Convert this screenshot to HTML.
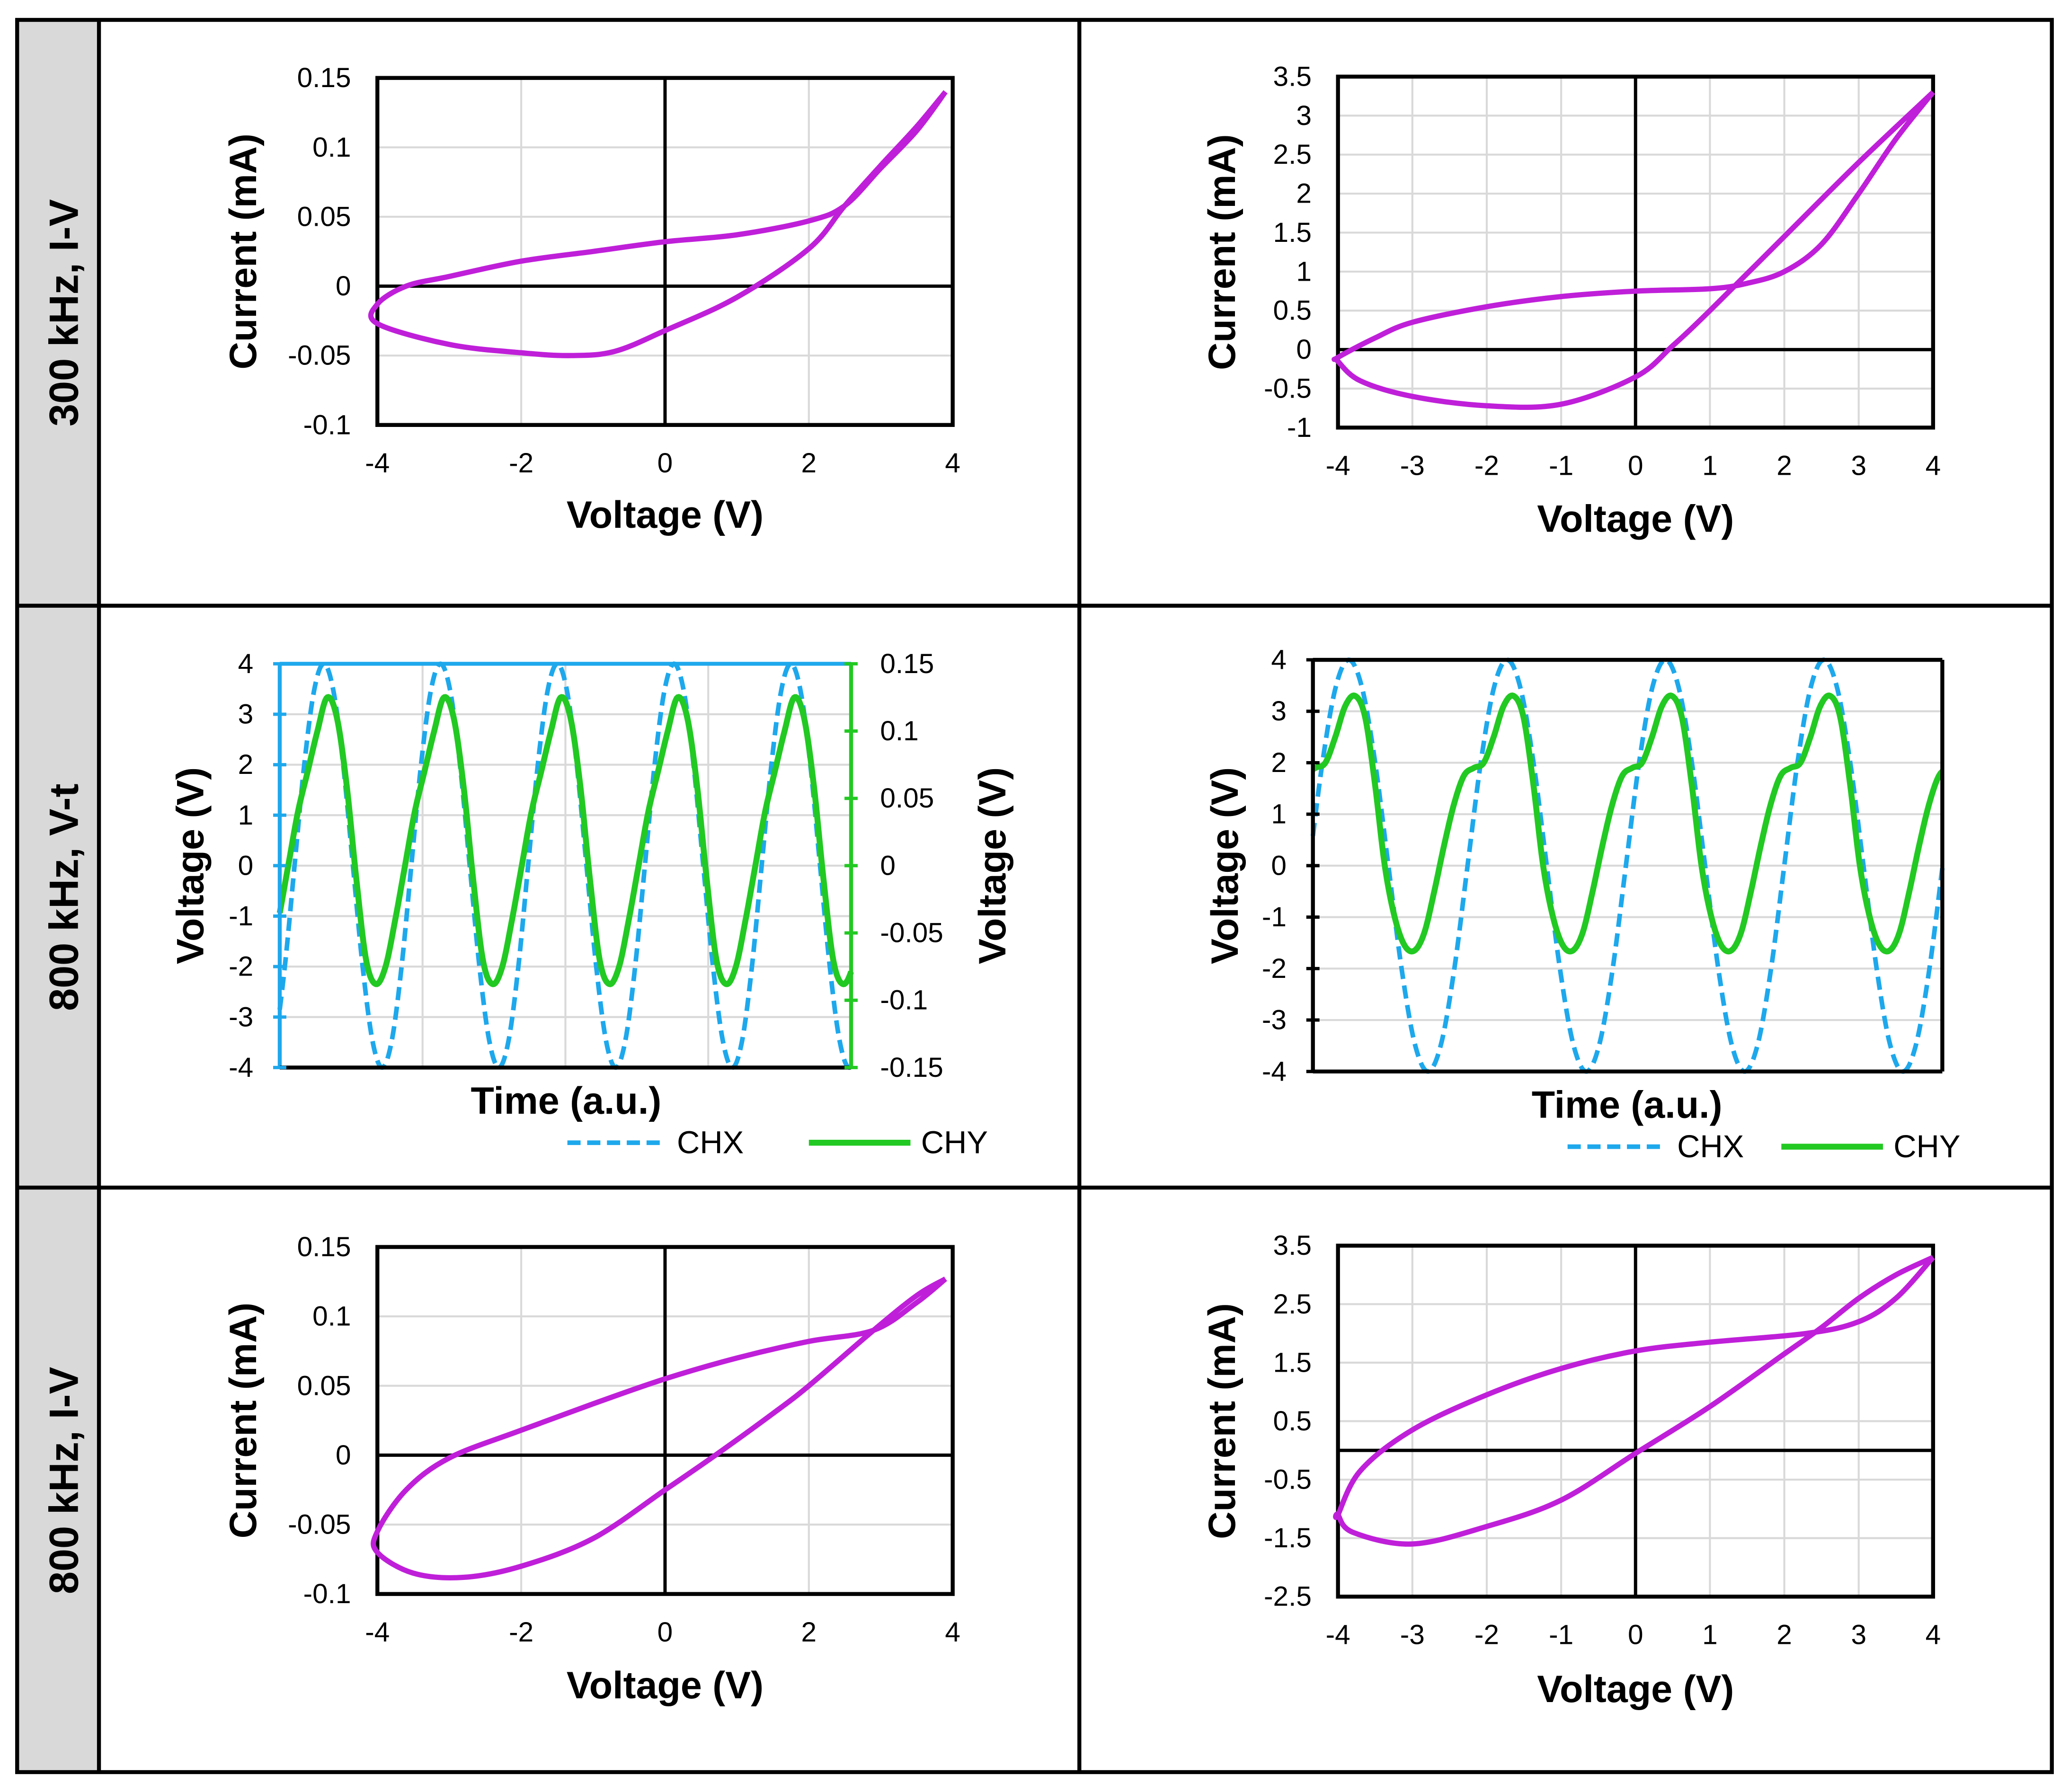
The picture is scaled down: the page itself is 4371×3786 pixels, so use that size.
<!DOCTYPE html>
<html><head><meta charset="utf-8">
<style>
html,body{margin:0;padding:0;background:#fff;}
svg{display:block;}
text{font-family:"Liberation Sans",Arial,sans-serif;}
</style></head>
<body>
<svg id="fig" xmlns="http://www.w3.org/2000/svg" width="4371" height="3786" viewBox="0 0 1568 1358">
<rect x="0" y="0" width="1568" height="1358" fill="#fff"/>
<g>
<rect x="13" y="15" width="62" height="1328" fill="#d9d9d9"/>
<rect x="13" y="15" width="1542" height="1328" fill="none" stroke="#000" stroke-width="3"/>
<line x1="75" y1="15" x2="75" y2="1343" stroke="#000" stroke-width="3"/>
<line x1="818" y1="15" x2="818" y2="1343" stroke="#000" stroke-width="3"/>
<line x1="13" y1="459" x2="1555" y2="459" stroke="#000" stroke-width="3"/>
<line x1="13" y1="900" x2="1555" y2="900" stroke="#000" stroke-width="3"/>
</g>
<text transform="translate(59,237) rotate(-90)" text-anchor="middle" font-size="31" font-weight="bold">300 kHz, I-V</text>
<text transform="translate(59,680) rotate(-90)" text-anchor="middle" font-size="31" font-weight="bold">800 kHz, V-t</text>
<text transform="translate(59,1122) rotate(-90)" text-anchor="middle" font-size="31" font-weight="bold">800 kHz, I-V</text>
</svg>
<script>
// ---------- data ----------
const p1UpperV = [3.9,3.5,3,2.5,2,1,0,-1,-2,-3,-3.6,-4];
const p1UpperI = [0.14,0.112,0.085,0.058,0.047,0.037,0.032,0.025,0.018,0.007,0.0,-0.013];
const p1LowerV = [-4,-3,-2,-1.3,-0.7,0,1,2,2.5,3,3.5,3.9];
const p1LowerI = [-0.027,-0.042,-0.048,-0.05,-0.047,-0.032,-0.008,0.027,0.058,0.087,0.115,0.14];
const p2UpperV = [4,3,2,1,0.5,0,-1,-2,-3,-3.7,-4];
const p2UpperI = [3.3,2.4,1.45,0.5,0.05,-0.35,-0.7,-0.72,-0.6,-0.4,-0.15];
const p2LowerV = [-4,-3.5,-3,-2,-1,0,1,1.5,2,2.5,3,3.5,4];
const p2LowerI = [-0.1,0.15,0.35,0.55,0.68,0.75,0.78,0.85,1.0,1.35,2.0,2.7,3.3];
const p5UpperV = [3.9,3.5,2.9,2,1,0,-1,-2,-3,-3.6,-4];
const p5UpperI = [0.127,0.11,0.09,0.082,0.07,0.055,0.037,0.018,-0.002,-0.025,-0.055];
const p5LowerV = [-4,-3.5,-2.8,-2,-1,0,0.7,1.5,2,2.9,3.5,3.9];
const p5LowerI = [-0.07,-0.085,-0.088,-0.08,-0.06,-0.025,0,0.03,0.05,0.09,0.115,0.127];
const p6UpperV = [4,3.5,3,2.3,1,0,-1,-2,-3,-3.7,-4];
const p6UpperI = [3.3,2.6,2.2,2.0,1.85,1.7,1.4,0.95,0.35,-0.35,-1.1];
const p6LowerV = [-4,-3.8,-3,-2,-1,0,1,2,2.5,3,3.5,4];
const p6LowerI = [-1.1,-1.4,-1.6,-1.3,-0.85,-0.05,0.75,1.65,2.1,2.6,3.0,3.3];
const p3ChxCycle = [4,3.46,2,0,-2,-3.46,-4,-3.46,-2,0,2,3.46];
const p3ChyCycle = [0.125,0.11,0.06,-0.01,-0.07,-0.088,-0.075,-0.04,0.0,0.04,0.07,0.1];
const p3Period = [0.2044];
const p3ChxPeak = [0.077];
const p3ChyPeak = [0.083];
const p4ChxCycle = [4,3.46,2,0,-2,-3.46,-4,-3.46,-2,0,2,3.46];
const p4ChyCycle = [3.3,2.9,1.6,0,-1.0,-1.55,-1.65,-1.3,-0.5,0.4,1.2,1.75,1.9,2.0,2.5,3.1];
const p4Period = [0.2516];
const p4ChxPeak = [0.057];
const p4ChyPeak = [0.067];
const ivLeftXTicks = [-4,-2,0,2,4];
const ivLeftYTicks = [-0.1,-0.05,0,0.05,0.1,0.15];
const ivLeftYLabels = ["-0.1","-0.05","0","0.05","0.1","0.15"];
const ivRightXTicks = [-4,-3,-2,-1,0,1,2,3,4];
const p2YTicks = [-1,-0.5,0,0.5,1,1.5,2,2.5,3,3.5];
const p6YTicks = [-2.5,-1.5,-0.5,0.5,1.5,2.5,3.5];
const vtYTicks = [-4,-3,-2,-1,0,1,2,3,4];
const p3RightTicks = [-0.15,-0.1,-0.05,0,0.05,0.1,0.15];
const p3RightLabels = ["-0.15","-0.1","-0.05","0","0.05","0.1","0.15"];

// ---------- helpers ----------
const NS="http://www.w3.org/2000/svg";
const svg=document.getElementById('fig');
const TICK=21, TITLE=29;
function mk(tag,attrs,parent,txt){const e=document.createElementNS(NS,tag);for(const k in attrs)e.setAttribute(k,attrs[k]);if(txt!==undefined)e.textContent=txt;(parent||svg).appendChild(e);return e;}
function scale(d0,d1,r0,r1){return v=>r0+(v-d0)/(d1-d0)*(r1-r0);}
function smooth(pts,closed){
  if(pts.length<2)return '';
  let d='M'+pts[0][0].toFixed(2)+','+pts[0][1].toFixed(2);
  const n=pts.length;
  for(let i=0;i<n-1;i++){
    const p0=pts[i>0?i-1:(closed?n-1:0)],p1=pts[i],p2=pts[i+1],p3=pts[i+2<n?i+2:(closed?(i+2)%n:n-1)];
    const c1=[p1[0]+(p2[0]-p0[0])/6,p1[1]+(p2[1]-p0[1])/6];
    const c2=[p2[0]-(p3[0]-p1[0])/6,p2[1]-(p3[1]-p1[1])/6];
    d+=' C'+c1[0].toFixed(2)+','+c1[1].toFixed(2)+' '+c2[0].toFixed(2)+','+c2[1].toFixed(2)+' '+p2[0].toFixed(2)+','+p2[1].toFixed(2);
  }
  return d;
}
function cycleVal(cyc,ph){
  const n=cyc.length;let f=((ph%1)+1)%1*n;const i=Math.floor(f),t=f-i;
  const p0=cyc[(i-1+n)%n],p1=cyc[i%n],p2=cyc[(i+1)%n],p3=cyc[(i+2)%n];
  return 0.5*((2*p1)+(-p0+p2)*t+(2*p0-5*p1+4*p2-p3)*t*t+(-p0+3*p1-3*p2+p3)*t*t*t);
}

function ivPanel(name,box,xr,yr,xt,xl,yt,yl,upV,upI,loV,loI,titleX,titleY){
  const g=mk('g',{});
  
  
  const sx=scale(xr[0],xr[1],box.x0,box.x1),sy=scale(yr[0],yr[1],box.y1,box.y0);
  xt.forEach(v=>{const l=mk('line',{x1:sx(v),x2:sx(v),y1:box.y0,y2:box.y1,stroke:'#d9d9d9','stroke-width':1.5},g);
    
    });
  yt.forEach(v=>{const l=mk('line',{x1:box.x0,x2:box.x1,y1:sy(v),y2:sy(v),stroke:'#d9d9d9','stroke-width':1.5},g);
    
    });
  const ax=mk('line',{x1:sx(0),x2:sx(0),y1:box.y0,y2:box.y1,stroke:'#000','stroke-width':2.5},g);
  
  
  const ay=mk('line',{x1:box.x0,x2:box.x1,y1:sy(0),y2:sy(0),stroke:'#000','stroke-width':2.5},g);
  
  
  const fr=mk('rect',{x:box.x0,y:box.y0,width:box.x1-box.x0,height:box.y1-box.y0,fill:'none',stroke:'#000','stroke-width':3},g);
  
  
  xt.forEach((v,i)=>{const t=mk('text',{x:sx(v),y:box.y1+36,'text-anchor':'middle','font-size':TICK},g,xl[i]);
    
    });
  yt.forEach((v,i)=>{const t=mk('text',{x:box.x0-20,y:sy(v)+7,'text-anchor':'end','font-size':TICK},g,yl[i]);
    
    });
  const pts=[];
  upV.forEach((v,i)=>pts.push([sx(v),sy(upI[i])]));
  loV.forEach((v,i)=>pts.push([sx(v),sy(loI[i])]));
  const c=mk('path',{d:smooth(pts,true),fill:'none',stroke:'#bf1fd9','stroke-width':4,'stroke-linejoin':'round'},g);
  
  
  const tx=mk('text',{x:(box.x0+box.x1)/2,y:titleY,'text-anchor':'middle','font-size':TITLE,'font-weight':'bold'},g,'Voltage (V)');
  
  
  const ty=mk('text',{transform:'translate('+titleX+','+((box.y0+box.y1)/2)+') rotate(-90)','text-anchor':'middle','font-size':TITLE,'font-weight':'bold'},g,'Current (mA)');
  
  
}

ivPanel('iv-300khz-left',{x0:286,x1:722,y0:59,y1:322},[-4,4],[-0.1,0.15],ivLeftXTicks,ivLeftXTicks.map(String),ivLeftYTicks,ivLeftYLabels,p1UpperV,p1UpperI,p1LowerV,p1LowerI,194,400);
ivPanel('iv-300khz-right',{x0:1014,x1:1465,y0:58,y1:324},[-4,4],[-1,3.5],ivRightXTicks,ivRightXTicks.map(String),p2YTicks,p2YTicks.map(String),p2LowerV.slice(0,0),[],[],[],936,403);
ivPanel('iv-800khz-left',{x0:286,x1:722,y0:945,y1:1208},[-4,4],[-0.1,0.15],ivLeftXTicks,ivLeftXTicks.map(String),ivLeftYTicks,ivLeftYLabels,p5UpperV,p5UpperI,p5LowerV,p5LowerI,194,1287);
ivPanel('iv-800khz-right',{x0:1014,x1:1465,y0:944,y1:1210},[-4,4],[-2.5,3.5],ivRightXTicks,ivRightXTicks.map(String),p6YTicks,p6YTicks.map(String),p6UpperV,p6UpperI,p6LowerV,p6LowerI,936,1290);
// panel 2 loop drawn explicitly from its arrays
(function(){
  const g=svg.lastChild.previousSibling.previousSibling;
  const sx=scale(-4,4,1014,1465),sy=scale(-1,3.5,324,58);
  const pts=[];
  p2UpperV.forEach((v,i)=>pts.push([sx(v),sy(p2UpperI[i])]));
  p2LowerV.forEach((v,i)=>pts.push([sx(v),sy(p2LowerI[i])]));
  const c=mk('path',{d:smooth(pts,true),fill:'none',stroke:'#bf1fd9','stroke-width':4,'stroke-linejoin':'round'});
  
  
})();

function vtPanel(name,box,chxC,chyC,period,chxPk,chyPk,chyRange,opts){
  const g=mk('g',{});
  
  
  const sx=scale(0,1,box.x0,box.x1),sy=scale(-4,4,box.y1,box.y0);
  const sy2=scale(chyRange[0],chyRange[1],box.y1,box.y0);
  vtYTicks.forEach(v=>{const l=mk('line',{x1:box.x0,x2:box.x1,y1:sy(v),y2:sy(v),stroke:'#d9d9d9','stroke-width':1.5},g);
    
    });
  if(opts.vgrid){for(let k=1;k<4;k++){const l=mk('line',{x1:sx(k/4),x2:sx(k/4),y1:box.y0,y2:box.y1,stroke:'#d9d9d9','stroke-width':1.5},g);
    
    }}
  const N=600;const a=[],b=[];
  for(let i=0;i<=N;i++){const t=i/N;
    a.push([sx(t),sy(cycleVal(chxC,(t-chxPk[0])/period[0]))]);
    b.push([sx(t),sy2(cycleVal(chyC,(t-chyPk[0])/period[0]))]);}
  const pa=mk('path',{d:'M'+a.map(p=>p[0].toFixed(2)+','+p[1].toFixed(2)).join(' L'),fill:'none',stroke:'#1ea8ec','stroke-width':3.5,'stroke-dasharray':'10,5'},g);
  
  
  const pb=mk('path',{d:'M'+b.map(p=>p[0].toFixed(2)+','+p[1].toFixed(2)).join(' L'),fill:'none',stroke:'#22c922','stroke-width':4.5},g);
  
  
  const lc=opts.leftColor;
  const la=mk('line',{x1:box.x0,x2:box.x0,y1:box.y0,y2:box.y1,stroke:lc,'stroke-width':3},g);
  
  
  const ba=mk('line',{x1:box.x0,x2:box.x1,y1:box.y1,y2:box.y1,stroke:'#000','stroke-width':3},g);
  
  
  const ta=mk('line',{x1:box.x0,x2:box.x1,y1:box.y0,y2:box.y0,stroke:opts.topColor,'stroke-width':3},g);
  
  
  const ra=mk('line',{x1:box.x1,x2:box.x1,y1:box.y0,y2:box.y1,stroke:opts.rightColor,'stroke-width':3},g);
  
  
  vtYTicks.forEach(v=>{
    const tk=mk('line',{x1:box.x0-5,x2:box.x0+5,y1:sy(v),y2:sy(v),stroke:lc,'stroke-width':2.5},g);
    
    
    const t=mk('text',{x:box.x0-20,y:sy(v)+7,'text-anchor':'end','font-size':TICK},g,String(v));
    
    });
  if(opts.right){p3RightTicks.forEach((v,i)=>{
    const tk=mk('line',{x1:box.x1-5,x2:box.x1+5,y1:sy2(v),y2:sy2(v),stroke:'#22c922','stroke-width':2.5},g);
    
    
    const t=mk('text',{x:box.x1+22,y:sy2(v)+7,'text-anchor':'start','font-size':TICK},g,p3RightLabels[i]);
    
    });
    const rt=mk('text',{transform:'translate('+opts.rightTitleX+','+((box.y0+box.y1)/2)+') rotate(-90)','text-anchor':'middle','font-size':TITLE,'font-weight':'bold'},g,'Voltage (V)');
    
    }
  const lt=mk('text',{transform:'translate('+opts.leftTitleX+','+((box.y0+box.y1)/2)+') rotate(-90)','text-anchor':'middle','font-size':TITLE,'font-weight':'bold'},g,'Voltage (V)');
  
  
  const xt=mk('text',{x:opts.timeX,y:opts.timeY,'text-anchor':'middle','font-size':TITLE,'font-weight':'bold'},g,'Time (a.u.)');
  
  
  const L=opts.legend;
  const l1=mk('line',{x1:L[0],x2:L[0]+75,y1:L[2],y2:L[2],stroke:'#1ea8ec','stroke-width':3.5,'stroke-dasharray':'10,5'},g);
  
  
  const t1=mk('text',{x:L[0]+83,y:L[2]+8,'font-size':24},g,'CHX');
  
  
  const l2=mk('line',{x1:L[1],x2:L[1]+77,y1:L[2],y2:L[2],stroke:'#22c922','stroke-width':4.5},g);
  
  
  const t2=mk('text',{x:L[1]+85,y:L[2]+8,'font-size':24},g,'CHY');
  
  
}
vtPanel('vt-800khz-left',{x0:212,x1:645,y0:503,y1:809},p3ChxCycle,p3ChyCycle,p3Period,p3ChxPeak,p3ChyPeak,[-0.15,0.15],
  {vgrid:true,leftColor:'#1ea8ec',rightColor:'#22c922',topColor:'#1ea8ec',right:true,rightTitleX:762,leftTitleX:154,timeX:429,timeY:844,legend:[430,613,866]});
vtPanel('vt-800khz-right',{x0:995,x1:1472,y0:500,y1:812},p4ChxCycle,p4ChyCycle,p4Period,p4ChxPeak,p4ChyPeak,[-4,4],
  {vgrid:false,leftColor:'#000',rightColor:'#000',topColor:'#000',right:false,leftTitleX:938,timeX:1233,timeY:847,legend:[1188,1350,869]});
</script>
</body></html>
